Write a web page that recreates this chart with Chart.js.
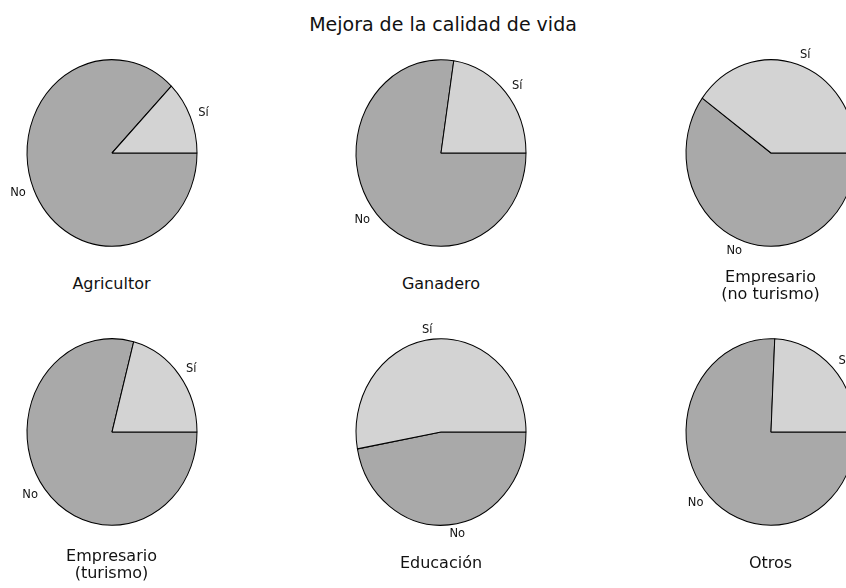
<!DOCTYPE html>
<html>
<head>
<meta charset="utf-8">
<script src="https://cdn.jsdelivr.net/npm/chart.js@4.4.0/dist/chart.umd.min.js"></script>
<style>
  html, body { margin: 0; padding: 0; background: #fff; }
  body { width: 846px; height: 588px; overflow: hidden; position: relative; font-family: 'DejaVu Sans', sans-serif; color: #111; }
  .pie { position: absolute; }
  .lbl { position: absolute; width: 220px; text-align: center; font-size: 16px; line-height: 17px; white-space: pre; }
  #title { position: absolute; left: 243px; width: 400px; top: 15px; text-align: center; font-size: 19px; line-height: 19px; white-space: nowrap; }
</style>
</head>
<body>
<div id="title">Mejora de la calidad de vida</div>
<script>
let categories = ['Agricultor', 'Ganadero', 'Empresario\n(no turismo)', 'Empresario\n(turismo)', 'Educación', 'Otros'];
let sliceLabels = ['No', 'Sí'];
let siValues = [12.7, 22.6, 40.0, 20.9, 52.9, 24.3];
let noValues = [87.3, 77.4, 60.0, 79.1, 47.1, 75.7];

// layout of the 2x3 grid (pies are slightly taller than wide)
let colCenters = [111.5, 441, 770.5];
let rowCenters = [153.3, 432.3];
let rx = 85, ry = 93.3;
let W = 250, H = 240;

// stretch the pie vertically so it comes out as an ellipse
let ellipse = {
  id: 'ellipse',
  beforeDatasetsDraw(chart) {
    let a = chart.getDatasetMeta(0).data[0];
    let c = chart.ctx;
    c.save();
    c.translate(a.x, a.y);
    c.scale(1, ry / rx);
    c.translate(-a.x, -a.y);
  },
  afterDatasetsDraw(chart) {
    chart.ctx.restore();
  }
};

// "Sí" / "No" labels just outside each slice
let pieLabels = {
  id: 'pieLabels',
  afterDraw(chart) {
    let meta = chart.getDatasetMeta(0);
    let c = chart.ctx;
    c.save();
    c.font = '11.5px "DejaVu Sans"';
    c.fillStyle = '#111';
    c.textBaseline = 'middle';
    meta.data.forEach((arc, j) => {
      let p = arc.getProps(['x', 'y', 'startAngle', 'endAngle']);
      let m = (p.startAngle + p.endAngle) / 2;
      let tx = p.x + 1.1 * rx * Math.cos(m);
      let ty = p.y + 1.1 * ry * Math.sin(m);
      c.textAlign = Math.cos(m) > 0 ? 'left' : 'right';
      c.fillText(chart.data.labels[j], tx, ty);
    });
    c.restore();
  }
};

categories.forEach((cat, i) => {
  let cx = colCenters[i % 3];
  let cy = rowCenters[Math.floor(i / 3)];

  let cv = document.createElement('canvas');
  cv.width = W;
  cv.height = H;
  cv.className = 'pie';
  cv.style.left = (cx - W / 2) + 'px';
  cv.style.top = (cy - H / 2) + 'px';
  cv.style.width = W + 'px';
  cv.style.height = H + 'px';
  document.body.appendChild(cv);

  new Chart(cv, {
    type: 'pie',
    data: {
      labels: sliceLabels,
      datasets: [{
        data: [noValues[i], siValues[i]],
        backgroundColor: ['#a9a9a9', '#d3d3d3'],
        borderColor: '#000',
        borderWidth: 1,
        radius: rx,
        clip: false
      }]
    },
    options: {
      responsive: false,
      animation: false,
      rotation: 90,
      events: [],
      layout: { padding: 0 },
      plugins: { legend: { display: false }, tooltip: { enabled: false } }
    },
    plugins: [ellipse, pieLabels]
  });

  // subplot label, two-line ones centred on the same spot
  let lines = cat.split('\n').length;
  let lbl = document.createElement('div');
  lbl.className = 'lbl';
  lbl.textContent = cat;
  lbl.style.left = (cx - 110) + 'px';
  lbl.style.top = (cy + 121.2 - (lines - 1) * 7) + 'px';
  document.body.appendChild(lbl);
});
</script>
</body>
</html>
